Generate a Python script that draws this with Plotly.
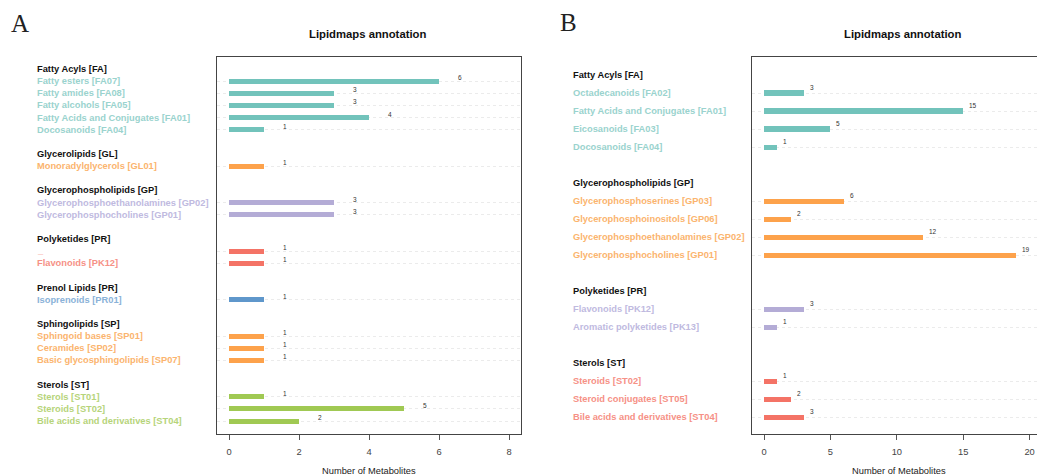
import plotly.graph_objects as go

# ---------------- data ----------------
a_classes = ["Fatty Acyls [FA]", "Glycerolipids [GL]", "Glycerophospholipids [GP]",
             "Polyketides [PR]", "Prenol Lipids [PR]", "Sphingolipids [SP]", "Sterols [ST]"]
a_subclasses = [
    ["Fatty esters [FA07]", "Fatty amides [FA08]", "Fatty alcohols [FA05]",
     "Fatty Acids and Conjugates [FA01]", "Docosanoids [FA04]"],
    ["Monoradylglycerols [GL01]"],
    ["Glycerophosphoethanolamines [GP02]", "Glycerophosphocholines [GP01]"],
    ["_", "Flavonoids [PK12]"],
    ["Isoprenoids [PR01]"],
    ["Sphingoid bases [SP01]", "Ceramides [SP02]", "Basic glycosphingolipids [SP07]"],
    ["Sterols [ST01]", "Steroids [ST02]", "Bile acids and derivatives [ST04]"],
]
a_counts = [[6, 3, 3, 4, 1], [1], [3, 3], [1, 1], [1], [1, 1, 1], [1, 5, 2]]
a_ticks = [0, 2, 4, 6, 8]

b_classes = ["Fatty Acyls [FA]", "Glycerophospholipids [GP]", "Polyketides [PR]", "Sterols [ST]"]
b_subclasses = [
    ["Octadecanoids [FA02]", "Fatty Acids and Conjugates [FA01]", "Eicosanoids [FA03]",
     "Docosanoids [FA04]"],
    ["Glycerophosphoserines [GP03]", "Glycerophosphoinositols [GP06]",
     "Glycerophosphoethanolamines [GP02]", "Glycerophosphocholines [GP01]"],
    ["Flavonoids [PK12]", "Aromatic polyketides [PK13]"],
    ["Steroids [ST02]", "Steroid conjugates [ST05]", "Bile acids and derivatives [ST04]"],
]
b_counts = [[3, 15, 5, 1], [6, 2, 12, 19], [3, 1], [1, 2, 3]]
b_ticks = [0, 5, 10, 15, 20]

title_text = "Lipidmaps annotation"
xlabel_text = "Number of Metabolites"

# ---------------- style ----------------
TEAL, ORANGE, PURPLE, RED, BLUE, GREEN = "#72c3bb", "#fda24b", "#b4acd6", "#f47366", "#5f97cb", "#a0c953"
TEAL_T, ORANGE_T, PURPLE_T, RED_T, BLUE_T, GREEN_T = "#9ad3ce", "#fbb46e", "#c0badf", "#f69186", "#8ab2d8", "#b6d47a"
a_bar_colors = [TEAL, ORANGE, PURPLE, RED, BLUE, ORANGE, GREEN]
a_txt_colors = [TEAL_T, ORANGE_T, PURPLE_T, RED_T, BLUE_T, ORANGE_T, GREEN_T]
b_bar_colors = [TEAL, ORANGE, PURPLE, RED]
b_txt_colors = [TEAL_T, ORANGE_T, PURPLE_T, RED_T]

# the page places the figure 8px from the window's top-left corner
OFF = 8
W, H = 1045 - OFF, 476 - OFF
FONT = "Liberation Sans, Arial, Helvetica, sans-serif"
SERIF = "Liberation Serif, Times New Roman, serif"


def px(v):
    return (v - OFF) / W


def py(v):
    return 1 - (v - OFF) / H


fig = go.Figure()
annotations = []


def build_panel(classes, subs, counts, bar_colors, txt_colors, xa, ya, label_x, bw,
                num_anchor, num_xshift, num_yshift):
    row = 0
    item_rows = []
    for g, cls in enumerate(classes):
        annotations.append(dict(text=cls, x=label_x, xref="paper", y=row, yref=ya,
                                xanchor="left", yanchor="middle", showarrow=False,
                                font=dict(family=FONT, size=9.3, color="#111111", weight="bold")))
        row += 1
        rows = []
        for lab, val in zip(subs[g], counts[g]):
            rows.append(row)
            annotations.append(dict(text=lab, x=label_x, xref="paper", y=row, yref=ya,
                                    xanchor="left", yanchor="middle", showarrow=False,
                                    font=dict(family=FONT, size=9.3, color=txt_colors[g], weight="bold")))
            annotations.append(dict(text=str(val), x=val, xref=xa, y=row, yref=ya,
                                    xanchor=num_anchor, yanchor="middle", showarrow=False,
                                    xshift=num_xshift, yshift=num_yshift,
                                    font=dict(family=FONT, size=6.5, color="#333333")))
            row += 1
        item_rows += rows
        fig.add_trace(go.Bar(x=counts[g], y=rows, orientation="h", base=0, width=bw,
                             marker=dict(color=bar_colors[g], line=dict(width=0)),
                             xaxis=xa, yaxis=ya, hoverinfo="x+y"))
        row += 1  # blank spacer row
    return item_rows


a_rows = build_panel(a_classes, a_subclasses, a_counts, a_bar_colors, a_txt_colors,
                     "x", "y", px(35), 0.41, "center", 21, 3.5)
b_rows = build_panel(b_classes, b_subclasses, b_counts, b_bar_colors, b_txt_colors,
                     "x2", "y2", px(571), 0.28, "left", 4, 6)

axis_common = dict(showline=True, linecolor="#444444", linewidth=1, zeroline=False)

fig.update_layout(
    width=W, height=H, autosize=False,
    margin=dict(l=0, r=0, t=0, b=0),
    paper_bgcolor="white", plot_bgcolor="white",
    showlegend=False, bargap=0,
    font=dict(family=FONT, color="#333333"),
    xaxis=dict(domain=[px(217), px(521)], range=[-0.343, 8.343], anchor="y",
               tickvals=a_ticks, ticks="outside", ticklen=5, tickcolor="#555555",
               ticklabelstandoff=4,
               tickfont=dict(size=9.3, color="#444444", family=FONT),
               showgrid=False, mirror=True, **axis_common),
    yaxis=dict(domain=[py(434), py(57)], range=[30.07, -0.99], anchor="x",
               tickvals=a_rows, showticklabels=False, ticks="",
               showgrid=True, gridcolor="#ebebeb", griddash="dot", gridwidth=1,
               mirror=True, **axis_common),
    xaxis2=dict(domain=[px(752), 1.0], range=[-0.904, 21.16], anchor="y2",
                tickvals=b_ticks, ticks="outside", ticklen=5, tickcolor="#555555",
                ticklabelstandoff=4,
                tickfont=dict(size=9.3, color="#444444", family=FONT),
                showgrid=False, mirror=True, **axis_common),
    yaxis2=dict(domain=[py(434), py(57)], range=[19.94, -1.0], anchor="x2",
                tickvals=b_rows, showticklabels=False, ticks="",
                showgrid=True, gridcolor="#ebebeb", griddash="dot", gridwidth=1,
                mirror=False, **axis_common),
)

# titles, axis titles, panel letters
for cx in (367.5, 902.5):
    annotations.append(dict(text=title_text, x=px(cx), y=py(34), xref="paper", yref="paper",
                            xanchor="center", yanchor="middle", showarrow=False,
                            font=dict(family=FONT, size=11.3, color="#111111", weight="bold")))
for cx in (369, 899):
    annotations.append(dict(text=xlabel_text, x=px(cx), y=py(471), xref="paper", yref="paper",
                            xanchor="center", yanchor="middle", showarrow=False,
                            font=dict(family=FONT, size=9.3, color="#222222")))
for letter, lx, ly in (("A", 9, 24), ("B", 558, 23)):
    annotations.append(dict(text=letter, x=px(lx), y=py(ly), xref="paper", yref="paper",
                            xanchor="left", yanchor="middle", showarrow=False,
                            font=dict(family=SERIF, size=25, color="#222222")))

fig.update_layout(annotations=annotations)
fig.write_html("out.html")
